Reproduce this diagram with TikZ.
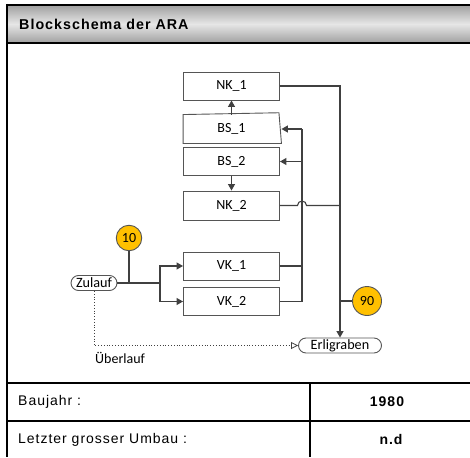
\documentclass[tikz,border=0pt]{standalone}
\usepackage{fontspec}
\setmainfont{Carlito}
\newfontfamily\hdrfont{Liberation Sans}[LetterSpace=7]
\usetikzlibrary{arrows.meta,shapes.misc,calc}
\definecolor{lc}{HTML}{404040}
\definecolor{bc}{HTML}{555555}
\definecolor{gold}{HTML}{FFC000}
\definecolor{gdark}{HTML}{A0A0A0}
\definecolor{glight}{HTML}{E6E6E6}
\begin{document}
\begin{tikzpicture}[x=1pt,y=-1pt,
  box/.style={draw=bc,line width=0.9pt,minimum width=96pt,minimum height=28pt,inner sep=0pt,font=\fontsize{14}{16}\selectfont},
  pill/.style={rounded rectangle,draw=bc,line width=0.9pt,minimum height=15pt,inner sep=0pt,font=\fontsize{14.2}{16}\selectfont},
  num/.style={circle,draw=bc,line width=0.9pt,fill=gold,inner sep=0pt,font=\fontsize{14}{16}\selectfont},
  ln/.style={draw=lc,line width=1.1pt},
  ar/.style={ln,-{Triangle[length=6.5pt,width=7pt]}},
  frame/.style={line width=2pt,black},
  hdr/.style={font=\hdrfont\fontsize{14}{16}\selectfont,inner sep=0pt}
]
\useasboundingbox (0,0) rectangle (470,457);
% header
\shade[top color=gdark,bottom color=gdark,middle color=glight] (7,5) rectangle (470,43);
\draw[frame] (7,5) -- (470,5);
\draw[frame] (7,43) -- (470,43);
\draw[frame] (7,4) -- (7,457);
\node[hdr,anchor=west,font=\hdrfont\bfseries\fontsize{14.3}{16}\selectfont] (title) at (19,24.5) {Blockschema der ARA};
% table
\draw[frame] (7,383) -- (470,383);
\draw[frame] (7,421) -- (470,421);
\draw[frame] (310,383) -- (310,457);
\node[hdr,anchor=west] (bj) at (18,402) {Baujahr :};
\node[hdr,font=\hdrfont\bfseries\fontsize{14}{16}\selectfont] (bjv) at (387,402) {1980};
\node[hdr,anchor=west] (lu) at (18,439.5) {Letzter grosser Umbau :};
\node[hdr,font=\hdrfont\bfseries\fontsize{14}{16}\selectfont] (luv) at (391,439.5) {n.d};
% boxes
\node[box] (nk1) at (231.5,86) {NK\_1};
\node[box,draw=none] (bs1) at (231.5,129) {BS\_1};
\draw[bc,line width=0.9pt] (bs1.south west) -- (bs1.north west) -- ($(bs1.north east)+(-1,-1.8)$) -- ($(bs1.south east)+(1.5,0)$) -- cycle;
\node[box] (bs2) at (231.5,161.5) {BS\_2};
\node[box,minimum height=29pt] (nk2) at (231.5,205.5) {NK\_2};
\node[box] (vk1) at (231.5,266) {VK\_1};
\node[box] (vk2) at (231.5,301.5) {VK\_2};
\node[pill,minimum width=46pt] (zul) at (94,283) {Zulauf};
\node[pill,minimum width=83pt] (erl) at (340,345.5) {Erligraben};
\node[num,minimum size=25.5pt] (c10) at (129,238) {10};
\node[num,minimum size=29pt] (c90) at (367,301) {90};
\node[anchor=west,inner sep=0pt,font=\fontsize{14}{16}\selectfont] (ueb) at (95,358) {Überlauf};
% connectors
\draw[ar] (bs1.north) -- (nk1.south);
\draw[ar] (bs2.south) -- (nk2.north);
\coordinate (ba) at (302,129);
\coordinate (bb) at (302,161.5);
\coordinate (bv) at (302,301.5);
\draw[ln] (vk2.east) -- (bv) -- (ba);
\draw[ln] (vk1.east) -- (vk1.east -| ba);
\draw[ar] (ba) -- ($(bs1.east)+(1.5,0)$);
\draw[ar] (bb) -- (bs2.east);
\coordinate (rb) at (340,86);
\draw[ar] (nk1.east) -- (rb) -- (erl.north);
\draw[ln] (nk2.east) -- (297.5,205.5) arc (180:360:4.5) -- (nk2.east -| rb);
\draw[ln] (c90.west) -- (c90.west -| rb);
\coordinate (zj) at (160,283);
\draw[ln] (zul.east) -- (zj);
\draw[ar] (zj) |- (vk1.west);
\draw[ar] (zj) |- (vk2.west);
\draw[ln] (c10.south) -- (c10.south |- zul.east);
\draw[draw=lc,line width=0.8pt,dotted,-{Triangle[open,length=7pt,width=7pt]}] (zul.south) |- (erl.west);
\end{tikzpicture}
\end{document}
